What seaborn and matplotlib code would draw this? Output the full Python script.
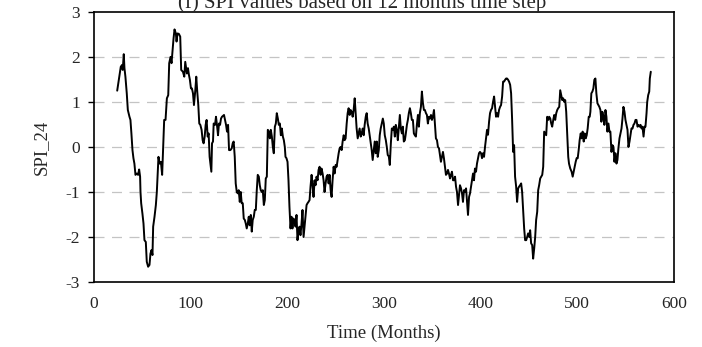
import matplotlib
matplotlib.use("Agg")
import matplotlib.pyplot as plt
import seaborn as sns
import pandas as pd

# SPI_24 series (month index, index value)
months = [
    24.0, 27.7, 29.0, 29.7, 30.8, 31.5, 32.5, 33.9, 35.0, 36.7, 37.7, 38.7, 39.8, 40.8, 41.8, 42.9,
    44.3, 45.6, 46.7, 47.7, 48.1, 48.8, 50.1, 51.2, 52.2, 53.6, 54.6, 56.0, 57.4, 58.4, 59.5, 60.5,
    61.2, 62.6, 64.0, 65.0, 66.7, 67.8, 69.2, 70.5, 71.2, 72.6, 74.0, 75.4, 76.8, 77.8, 79.2, 80.2,
    81.3, 82.3, 83.3, 84.7, 85.4, 86.4, 87.8, 89.2, 90.2, 92.0, 93.4,
    94.4, 96.1, 97.2, 98.2, 99.2, 100.3, 101.3, 102.4, 103.4, 104.8, 105.8, 106.8, 107.9, 108.9,
    110.0, 111.3, 112.4, 113.4, 114.5, 115.5, 116.5, 117.6, 118.6, 119.6, 121.4, 122.1, 123.1,
    123.8, 125.2, 126.2, 127.2, 128.3, 129.3, 130.4, 131.4, 132.4, 133.5, 134.5, 135.5, 136.6,
    137.6, 138.7, 139.7, 141.1, 142.5, 143.5, 144.5, 145.6, 146.6, 147.7, 148.7, 149.7, 150.8,
    151.8, 152.8, 153.9, 154.9, 156.0, 157.0, 158.0, 159.1, 160.1, 161.1, 162.2, 163.2, 164.2,
    165.3, 166.3, 167.4, 168.4, 169.4, 170.5, 171.5, 172.5, 173.6, 174.6, 175.7, 176.7, 177.7,
    178.8, 179.8, 180.8, 181.9, 182.9, 184.0, 185.0, 186.0, 187.1, 188.1, 189.1, 190.2, 191.2,
    192.3, 193.3, 194.3, 195.4, 196.4, 197.4,
    198.1, 199.1, 200.2, 201.2, 202.2, 203.3, 204.3, 205.3, 206.4, 207.4, 208.5, 209.5, 210.5,
    211.6, 212.6, 213.6, 214.7, 215.7, 216.8, 217.8, 218.8, 219.9, 220.9, 221.9, 223.0, 224.0,
    225.1, 226.1, 227.1, 228.2, 229.2, 230.2, 231.3, 232.3, 233.4, 234.4, 235.4, 236.5, 237.5,
    238.5, 239.6, 240.6, 241.7, 242.7, 243.7, 244.8, 245.8, 246.8, 247.9, 248.9, 250.0, 251.0,
    252.0, 253.1, 254.1, 255.1, 256.2, 257.2, 258.3, 259.3, 260.3, 261.4, 262.4, 263.4, 264.5,
    265.5, 266.5, 267.6, 268.6, 269.7, 270.7, 271.7, 272.8, 273.8, 274.8, 275.9, 276.9, 278.0,
    279.0, 280.0, 281.1, 282.1, 283.1, 284.2, 285.2, 286.3, 287.3, 288.3, 289.4, 290.4, 291.4,
    292.5, 293.5, 294.6, 295.6, 296.6,
    298.8, 299.8, 300.8, 301.9, 302.9, 303.9, 305.0, 306.0, 307.1, 308.1, 309.1, 310.2, 311.2,
    312.2, 313.3, 314.3, 315.4, 316.4, 317.4, 318.5, 319.5, 320.5, 321.6, 322.6, 323.7, 324.7,
    325.7, 326.8, 327.8, 328.8, 329.9, 330.9, 331.9, 333.0, 334.0, 335.1, 336.1, 337.1, 338.2,
    339.2, 340.3, 341.3, 342.3, 343.4, 344.4, 345.4, 346.5, 347.5, 348.6, 349.6, 350.6, 351.7,
    352.7, 353.7, 354.8, 355.8, 356.9, 357.9, 358.9, 360.0, 361.0, 362.0, 363.1, 364.1, 365.2,
    366.2, 367.2, 368.3, 369.3, 370.3, 371.4, 372.4, 373.5, 374.5, 375.5, 376.6, 377.6, 378.6,
    379.7, 380.7, 381.7, 382.8, 383.8, 384.9, 385.9, 386.9, 388.0, 389.0,
    391.0, 392.1, 393.1, 394.1, 395.2, 396.2, 397.3, 398.3, 399.3, 400.4, 401.4, 402.4, 403.5,
    404.5, 405.6, 406.6, 407.6, 408.7, 409.7, 410.7, 411.8, 412.8, 413.9, 414.9, 415.9, 417.0,
    418.0, 419.0, 420.1, 421.1, 422.2, 423.2, 424.2, 425.3, 426.3, 427.3, 428.4, 429.4, 430.5,
    431.5, 432.5, 433.6, 434.6, 435.6, 436.7, 437.7, 438.8, 439.8, 440.8, 441.9, 442.9, 443.9,
    445.0, 446.0, 447.1, 448.1, 449.1, 450.2, 451.2, 452.2, 453.3, 454.3, 455.4, 456.4, 457.4,
    458.5, 459.5, 460.5, 461.6, 462.6, 463.7, 464.7, 465.7, 466.8, 467.8, 468.8, 469.9, 470.9,
    472.0, 473.0, 474.0, 475.1, 476.1, 477.1, 478.2, 479.2, 480.2, 481.3, 482.3, 483.4, 484.4,
    485.4, 486.5, 487.5, 488.5, 489.6,
    490.6, 491.4, 492.7, 494.1, 495.2, 496.2, 497.2, 498.3, 499.3, 500.4, 501.4, 502.4, 503.5,
    504.5, 505.5, 506.6, 507.6, 508.7, 509.7, 510.7, 511.8, 512.8, 513.5, 514.5, 515.6, 516.6,
    517.6, 518.7, 519.7, 520.8, 521.8, 522.8, 523.9, 524.9, 525.9, 527.0, 528.0, 529.1, 530.1,
    531.1, 532.2, 533.2, 534.2, 535.3, 536.3, 537.4, 538.4, 539.4, 540.5, 541.5, 542.5, 543.6,
    544.6, 545.7, 546.7, 547.7, 548.8, 549.8, 550.8, 551.9, 552.9, 554.0, 555.0, 556.0, 557.1,
    558.1, 559.1, 560.2, 561.2, 562.3, 563.3, 564.3, 565.4, 566.4, 567.4, 568.5, 569.5, 570.5,
    571.6, 572.3, 573.3, 574.4, 575.0, 576.0,
]

spi_24 = [
    1.26, 1.79, 1.83, 1.72, 2.07, 1.76, 1.57, 1.20, 0.83, 0.68, 0.61, 0.31, -0.06, -0.24, -0.36, -0.61,
    -0.58, -0.61, -0.49, -0.65, -0.99, -1.24, -1.47, -1.69, -2.06, -2.10, -2.54, -2.65, -2.61, -2.36, -2.28, -2.39,
    -1.76, -1.54, -1.28, -0.99, -0.21, -0.36, -0.32, -0.61, -0.21, 0.61, 0.61, 1.09, 1.16, 1.87, 2.01, 1.87,
    2.16, 2.42, 2.62, 2.53, 2.35, 2.53, 2.52, 2.46, 1.72, 1.68, 1.57,
    1.90, 1.64, 1.76, 1.61, 1.50, 1.31, 1.31, 1.20, 0.94, 1.27, 1.57, 1.24, 0.94, 0.53,
    0.50, 0.39, 0.16, 0.09, 0.24, 0.50, 0.61, 0.24, 0.31, -0.21, -0.54, 0.09, 0.13,
    0.53, 0.50, 0.68, 0.50, 0.27, 0.53, 0.50, 0.64, 0.68, 0.70, 0.72, 0.61, 0.50,
    0.35, 0.50, -0.06, -0.06, -0.02, 0.09, 0.13, -0.21, -0.80, -0.99, -1.02, -0.95, -1.21,
    -0.99, -1.24, -1.24, -1.58, -1.61, -1.69, -1.80, -1.69, -1.54, -1.73, -1.50, -1.87, -1.61,
    -1.54, -1.39, -1.39, -0.95, -0.61, -0.65, -0.84, -0.95, -0.99, -0.95, -1.28, -1.17, -0.69,
    -0.65, 0.39, 0.35, 0.20, 0.39, 0.24, 0.01, -0.13, 0.46, 0.53, 0.76, 0.64, 0.50,
    0.53, 0.27, 0.42, 0.24, 0.16, 0.01,
    -0.21, -0.24, -0.32, -0.73, -1.32, -1.80, -1.54, -1.80, -1.58, -1.65, -1.76, -1.50, -2.06,
    -1.84, -1.76, -1.95, -1.69, -1.39, -1.99, -1.76, -1.54, -1.28, -1.24, -1.21, -1.17, -0.87,
    -0.61, -0.84, -1.10, -0.73, -0.84, -0.65, -0.73, -0.50, -0.43, -0.61, -0.47, -0.58, -0.73,
    -0.99, -0.80, -0.65, -0.61, -0.80, -0.61, -0.95, -1.10, -0.73, -0.43, -0.58, -0.39, -0.43,
    -0.28, -0.13, -0.02, 0.01, -0.06, 0.13, 0.27, 0.16, 0.20, 0.53, 0.76, 0.87, 0.72,
    0.83, 0.79, 0.68, 0.83, 1.09, 0.76, 0.42, 0.20, 0.31, 0.42, 0.24, 0.31, 0.42,
    0.27, 0.50, 0.68, 0.76, 0.53, 0.42, 0.27, 0.09, -0.06, -0.28, -0.06, 0.13, -0.13,
    0.13, -0.21, -0.06, 0.27, 0.42,
    0.64, 0.53, 0.27, 0.16, 0.01, -0.17, -0.20, -0.39, 0.09, 0.42, 0.39, 0.46, 0.24,
    0.50, 0.39, 0.16, 0.46, 0.72, 0.42, 0.31, 0.46, 0.13, 0.16, 0.31, 0.50, 0.61,
    0.76, 0.87, 0.76, 0.61, 0.61, 0.31, 0.27, 0.24, 0.50, 0.72, 0.46, 0.76, 0.90,
    1.24, 0.98, 0.83, 0.83, 0.76, 0.72, 0.53, 0.68, 0.64, 0.72, 0.61, 0.68, 0.83,
    0.53, 0.20, 0.16, 0.01, -0.02, -0.17, -0.32, -0.21, -0.10, -0.24, -0.43, -0.61, -0.58,
    -0.50, -0.58, -0.69, -0.61, -0.54, -0.73, -0.73, -0.65, -0.87, -0.99, -1.28, -1.06, -0.84,
    -0.91, -1.02, -1.21, -0.95, -0.99, -0.91, -1.21, -1.50, -1.10, -1.02,
    -0.73, -0.58, -0.73, -0.47, -0.54, -0.36, -0.24, -0.13, -0.10, -0.13, -0.24, -0.13, -0.21,
    0.01, 0.20, 0.39, 0.28, 0.57, 0.76, 0.83, 0.87, 1.01, 1.13, 0.90, 0.68, 0.76,
    0.68, 0.83, 0.90, 0.94, 1.13, 1.46, 1.46, 1.50, 1.53, 1.53, 1.50, 1.46, 1.39,
    1.20, 0.64, -0.10, 0.05, -0.65, -0.87, -1.21, -0.91, -0.87, -0.84, -0.80, -0.99, -1.39,
    -1.80, -2.06, -2.06, -1.99, -1.91, -1.99, -1.84, -2.13, -2.17, -2.47, -2.24, -1.99, -1.61,
    -1.43, -0.95, -0.84, -0.69, -0.65, -0.61, -0.43, 0.35, 0.31, 0.27, 0.68, 0.61, 0.68,
    0.64, 0.53, 0.46, 0.61, 0.72, 0.61, 0.76, 0.83, 0.87, 0.90, 1.27, 1.16, 1.05,
    1.09, 1.01, 1.05, 0.79, 0.27,
    -0.21, -0.36, -0.47, -0.54, -0.65, -0.54, -0.43, -0.32, -0.24, -0.24, -0.06, 0.16, 0.31,
    0.20, 0.35, 0.13, 0.31, 0.20, 0.27, 0.42, 0.68, 0.68, 0.79, 1.20, 1.24, 1.31,
    1.50, 1.53, 1.20, 0.98, 0.94, 0.90, 0.83, 0.57, 0.79, 0.68, 0.50, 0.83, 0.68,
    0.35, 0.53, 0.35, 0.35, -0.10, 0.05, 0.01, -0.32, -0.13, -0.36, -0.28, -0.02, 0.20,
    0.31, 0.42, 0.64, 0.90, 0.79, 0.61, 0.50, 0.39, 0.01, 0.13, 0.27, 0.42, 0.42,
    0.50, 0.53, 0.61, 0.61, 0.46, 0.50, 0.46, 0.50, 0.42, 0.46, 0.24, 0.46, 0.46,
    0.76, 1.01, 1.16, 1.24, 1.53, 1.68,
]

x_ticks = [0, 100, 200, 300, 400, 500, 600]
y_ticks = [-3, -2, -1, 0, 1, 2, 3]

df = pd.DataFrame({"Time (Months)": months, "SPI_24": spi_24})

sns.set_style("white")
plt.rcParams["font.family"] = ["Liberation Serif", "DejaVu Serif"]

fig = plt.figure(figsize=(7.02, 3.47), dpi=100)
ax = fig.add_axes([0.1339, 0.1859, 0.8262, 0.7787])

sns.lineplot(data=df, x="Time (Months)", y="SPI_24", ax=ax, color="black",
             linewidth=1.4, estimator=None, sort=False)

ax.set_xlim(0, 600)
ax.set_ylim(-3, 3)
ax.set_xticks(x_ticks)
ax.set_yticks(y_ticks)
ax.set_xticklabels([str(v) for v in x_ticks], fontsize=12.5)
ax.set_yticklabels([str(v) for v in y_ticks], fontsize=12.5)
ax.tick_params(axis="x", length=0, pad=10)
ax.tick_params(axis="y", length=4, width=1, direction="out", pad=6, color="black", left=True)

for v in y_ticks[1:-1]:
    ax.axhline(v, color="#c4c4c4", linewidth=0.9, linestyle=(0, (8, 6)), zorder=0)

for s in ax.spines.values():
    s.set_color("black")
    s.set_linewidth(1.2)

ax.set_xlabel("Time (Months)", fontsize=13.5, labelpad=9)
ax.set_ylabel("SPI_24", fontsize=13.5, labelpad=11)

fig.text(0.516, 0.977, "(f) SPI values based on 12 months time step",
         ha="center", va="baseline", fontsize=15)

fig.savefig("out.png", dpi=100)
